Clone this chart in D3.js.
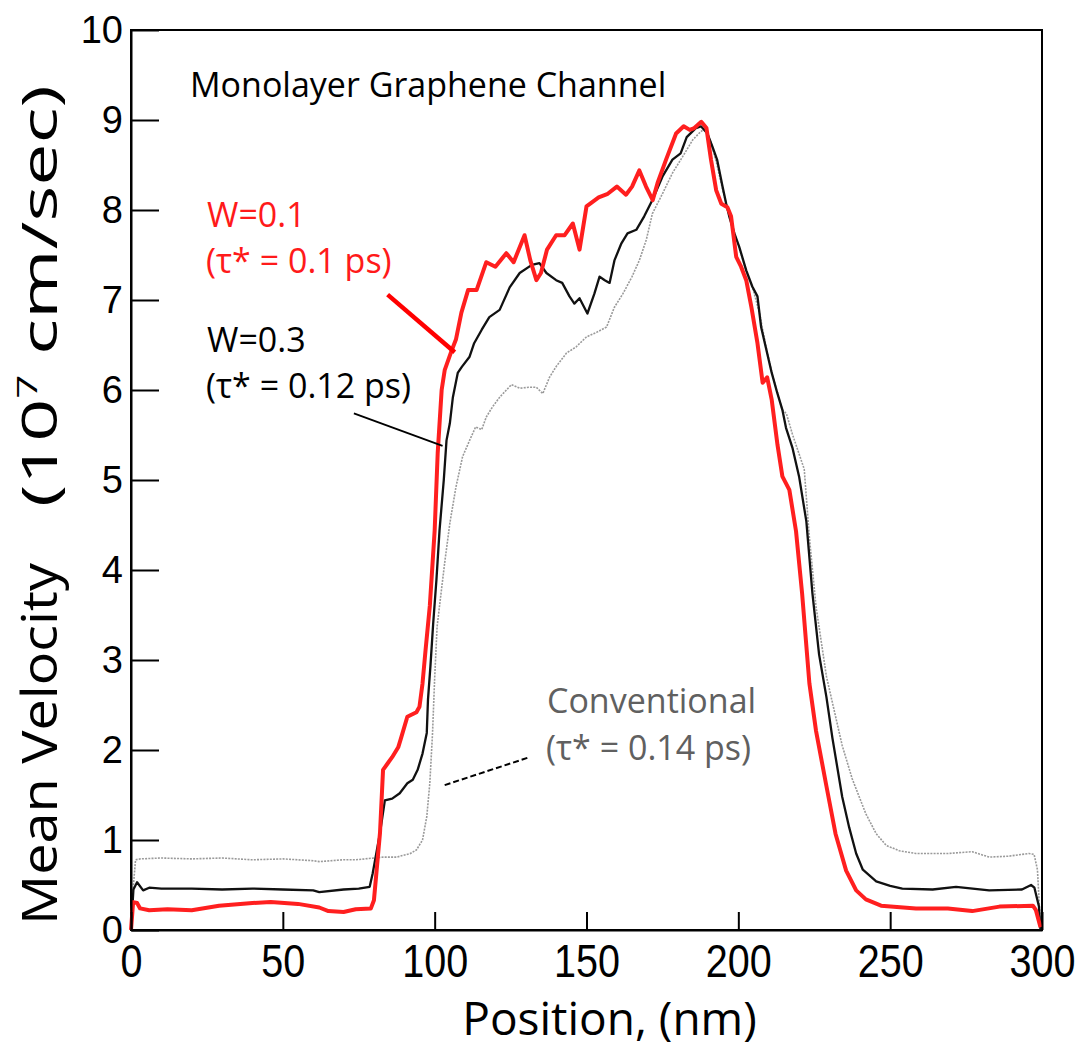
<!DOCTYPE html>
<html>
<head>
<meta charset="utf-8">
<script src="https://cdn.jsdelivr.net/npm/d3@7"></script>
<style>
    body { margin: 0; background: #fff; }
    .axis path, .axis line { stroke: #000; stroke-width: 2; }
    .axis text { font-family: "Liberation Sans", Arial, sans-serif; fill: #000; }
    .note { font-family: "Open Sans", sans-serif; font-size: 34px; }
</style>
</head>
<body>
<div id="chart"></div>
<script>
// tick values
var xTicks = [0, 50, 100, 150, 200, 250, 300];
var yTicks = [0, 1, 2, 3, 4, 5, 6, 7, 8, 9, 10];

// W=0.1 (red)
var posW01 = [0, 0.7, 2, 3, 6, 12, 20, 29, 40, 46, 55, 62, 65, 70, 74, 79, 80, 82, 83, 84.5, 86, 88, 89, 91, 94, 95, 96, 97, 98.4, 100, 101, 102.3, 103.3, 105.6, 107, 108.8, 111, 113.8, 117, 120, 123.6, 126, 129.6, 131.5, 133.5, 135, 137, 140, 142.8, 145.5, 147.7, 150, 154, 157, 160, 163, 165, 167.4, 169.6, 171.8, 173.4, 176.2, 179.5, 182, 184, 185.5, 187.8, 189.5, 191, 192.7, 194.4, 196.4, 197.6, 199.3, 200.9, 202.6, 204.3, 206.3, 208, 209.5, 211, 212.9, 214.5, 216.8, 219, 221, 223.4, 225.6, 229, 232, 235.5, 238.8, 242, 247, 258.5, 269, 277, 286, 297, 298, 299.5];
var velW01 = [0, 0.31, 0.3, 0.24, 0.22, 0.23, 0.22, 0.27, 0.3, 0.31, 0.29, 0.25, 0.21, 0.2, 0.23, 0.24, 0.33, 1.08, 1.78, 1.85, 1.92, 2.03, 2.14, 2.37, 2.42, 2.48, 2.74, 3.11, 3.6, 4.44, 5.3, 6.0, 6.22, 6.44, 6.56, 6.86, 7.11, 7.11, 7.42, 7.37, 7.52, 7.42, 7.72, 7.44, 7.22, 7.3, 7.56, 7.72, 7.72, 7.85, 7.56, 8.04, 8.14, 8.18, 8.26, 8.17, 8.26, 8.44, 8.26, 8.11, 8.3, 8.56, 8.85, 8.93, 8.89, 8.91, 8.98, 8.91, 8.56, 8.22, 8.07, 8.03, 7.93, 7.48, 7.37, 7.22, 6.92, 6.52, 6.08, 6.14, 5.89, 5.39, 5.04, 4.89, 4.43, 3.74, 2.74, 2.21, 1.6, 1.07, 0.66, 0.44, 0.34, 0.27, 0.24, 0.24, 0.21, 0.26, 0.27, 0.22, 0.03];

// W=0.3 (black)
var posW03 = [0, 0.8, 2, 4, 6, 10, 20, 30, 40, 50, 60, 62, 70, 75, 78.6, 79.6, 82, 83.6, 86, 88.5, 91, 92.8, 94.4, 96, 97.4, 97.8, 98.6, 99.5, 100.6, 101.6, 103, 103.9, 105, 106, 107.6, 109, 111.5, 113, 115.5, 118, 121.4, 124.7, 128, 132, 134.5, 136.8, 140, 142, 144.4, 146, 147.7, 150.3, 152.6, 154.3, 156, 157.6, 159.2, 161.5, 163.5, 166.4, 169, 171.7, 175, 178.3, 181, 183, 186, 187.7, 189.8, 191.5, 193, 194.8, 196, 197, 198.7, 200.3, 202.6, 204.6, 206.3, 207.5, 209, 211, 212.8, 214.5, 215.7, 217.8, 220, 222.4, 224.4, 226.6, 229, 231, 234.2, 236.5, 238.8, 241, 245.4, 250, 254, 264, 271.7, 282.6, 293.4, 296.4, 297.5, 299, 299.5];
var velW03 = [0, 0.45, 0.53, 0.44, 0.47, 0.46, 0.46, 0.45, 0.46, 0.45, 0.44, 0.42, 0.45, 0.46, 0.48, 0.63, 1.08, 1.44, 1.46, 1.52, 1.63, 1.67, 1.78, 1.96, 2.19, 2.56, 2.93, 3.4, 3.9, 4.44, 5.0, 5.44, 5.63, 5.92, 6.19, 6.26, 6.37, 6.52, 6.67, 6.81, 6.89, 7.14, 7.3, 7.39, 7.41, 7.3, 7.22, 7.19, 7.04, 6.96, 7.02, 6.85, 7.07, 7.26, 7.22, 7.19, 7.44, 7.63, 7.74, 7.78, 7.93, 8.11, 8.37, 8.56, 8.63, 8.81, 8.91, 8.93, 8.85, 8.7, 8.56, 8.26, 8.07, 7.93, 7.74, 7.59, 7.33, 7.15, 7.04, 6.7, 6.48, 6.19, 5.97, 5.78, 5.58, 5.36, 5.04, 4.54, 3.74, 3.06, 2.59, 2.13, 1.48, 1.14, 0.85, 0.67, 0.54, 0.49, 0.46, 0.45, 0.48, 0.44, 0.45, 0.5, 0.47, 0.26, 0];

// Conventional (grey dotted)
var posConv = [0, 0.8, 1.5, 3, 10, 20, 30, 40, 50, 60, 62, 70, 74, 80, 83, 87.5, 92, 94, 96, 97.4, 98.4, 99.3, 100, 100.8, 101.6, 103.3, 105, 107, 109.2, 111.5, 113.5, 115.5, 117, 119, 121.4, 125.3, 128, 131, 133.5, 135.6, 137.8, 140, 143.4, 146.6, 150, 153.3, 156.6, 159.2, 162, 165, 167.4, 169.7, 171.7, 175, 178.3, 181.6, 185, 187, 189, 191, 193, 195, 197, 199, 201, 203, 205, 207, 209, 211, 213, 214.5, 215.8, 217.8, 221.7, 223.4, 225.6, 229, 234.2, 237.5, 242, 245.4, 248.7, 253, 258.5, 269, 277, 282.6, 289, 295.7, 297.4, 298.5, 299.5];
var velConv = [0, 0.5, 0.78, 0.79, 0.8, 0.79, 0.8, 0.78, 0.79, 0.77, 0.76, 0.78, 0.78, 0.8, 0.81, 0.81, 0.85, 0.89, 1.0, 1.26, 1.63, 2.19, 2.8, 3.37, 3.6, 4.08, 4.52, 4.92, 5.26, 5.44, 5.59, 5.56, 5.7, 5.81, 5.92, 6.06, 6.02, 6.03, 6.03, 5.96, 6.14, 6.26, 6.41, 6.48, 6.59, 6.64, 6.7, 6.92, 7.07, 7.26, 7.44, 7.67, 7.96, 8.18, 8.41, 8.59, 8.78, 8.85, 8.91, 8.75, 8.5, 8.2, 7.95, 7.72, 7.5, 7.28, 7.1, 6.85, 6.5, 6.2, 5.95, 5.78, 5.74, 5.51, 5.12, 4.36, 3.59, 2.82, 2.05, 1.68, 1.29, 1.07, 0.94, 0.88, 0.85, 0.85, 0.87, 0.81, 0.82, 0.85, 0.84, 0.67, 0.03];

function init() {
    var w = 1084;
    var h = 1050;
    var left = 131, right = 1042, top = 30, bottom = 930;

    var xScale = d3.scaleLinear()
                   .domain([0, 300])
                   .range([left, right]);

    var yScale = d3.scaleLinear()
                   .domain([0, 10])
                   .range([bottom, top]);

    var line = d3.line()
                 .x(function(d) { return xScale(d[0]); })
                 .y(function(d) { return yScale(d[1]); });

    var svg = d3.select("#chart")
                .append("svg")
                .attr("width", w)
                .attr("height", h);

    // frame
    svg.append("rect")
        .attr("x", left)
        .attr("y", top)
        .attr("width", right - left)
        .attr("height", bottom - top)
        .attr("fill", "none")
        .attr("stroke", "#000")
        .attr("stroke-width", 2);

    // lines
    svg.append("path")
        .datum(d3.zip(posConv, velConv))
        .attr("d", line)
        .attr("fill", "none")
        .attr("stroke", "#9a9a9a")
        .attr("stroke-width", 1.6)
        .attr("stroke-dasharray", "2,1.2");

    svg.append("path")
        .datum(d3.zip(posW03, velW03))
        .attr("d", line)
        .attr("fill", "none")
        .attr("stroke", "#111")
        .attr("stroke-width", 2.3)
        .attr("stroke-linejoin", "round");

    svg.append("path")
        .datum(d3.zip(posW01, velW01))
        .attr("d", line)
        .attr("fill", "none")
        .attr("stroke", "#ff1f1f")
        .attr("stroke-width", 4)
        .attr("stroke-linejoin", "round");

    // axes
    var xAxis = d3.axisBottom(xScale)
                  .tickValues(xTicks)
                  .tickSizeInner(-18)
                  .tickSizeOuter(0)
                  .tickPadding(14);

    var yAxis = d3.axisLeft(yScale)
                  .tickValues(yTicks)
                  .tickSizeInner(-28)
                  .tickSizeOuter(0)
                  .tickPadding(8);

    var gx = svg.append("g")
        .attr("class", "axis")
        .attr("transform", "translate(0," + bottom + ")")
        .call(xAxis);
    gx.selectAll("text")
        .style("font-size", "46px")
        .attr("transform", "scale(0.86,1)");

    var gy = svg.append("g")
        .attr("class", "axis")
        .attr("transform", "translate(" + left + ",0)")
        .call(yAxis);
    gy.selectAll("text")
        .style("font-size", "38px");

    // axis titles
    svg.append("text")
        .attr("x", (left + right) / 2 + 23)
        .attr("y", 1035)
        .attr("text-anchor", "middle")
        .style("font-family", "Open Sans, sans-serif")
        .style("font-size", "46px")
        .text("Position, (nm)");

    // y title: the original is stretched along its length, so scale each part to fit
    var yt1 = svg.append("text")
        .style("font-family", "Open Sans, sans-serif")
        .style("font-size", "50px")
        .text("Mean Velocity");
    var len1 = yt1.node().getComputedTextLength();
    yt1.attr("transform", "translate(57,925) rotate(-90) scale(" + (362 / len1) + ",1)");

    var yt2 = svg.append("text")
        .style("font-family", "Open Sans, sans-serif")
        .style("font-size", "50px");
    yt2.append("tspan").text("(10");
    yt2.append("tspan").attr("dy", -20).style("font-size", "28px").text("7");
    yt2.append("tspan").attr("dy", 20).text(" cm/sec)");
    var len2 = yt2.node().getComputedTextLength();
    yt2.attr("transform", "translate(57,507) rotate(-90) scale(" + (422 / len2) + ",1)");

    // annotations
    svg.append("text").attr("class", "note")
        .attr("x", 190).attr("y", 97)
        .text("Monolayer Graphene Channel");

    svg.append("text").attr("class", "note")
        .attr("x", 207).attr("y", 227).attr("fill", "#ff1a1a")
        .text("W=0.1");
    svg.append("text").attr("class", "note")
        .attr("x", 206).attr("y", 273).attr("fill", "#ff1a1a")
        .text("(τ* = 0.1 ps)");

    svg.append("text").attr("class", "note")
        .attr("x", 207).attr("y", 352)
        .text("W=0.3");
    svg.append("text").attr("class", "note")
        .attr("x", 206).attr("y", 398)
        .text("(τ* = 0.12 ps)");

    svg.append("text").attr("class", "note")
        .attr("x", 547).attr("y", 713).attr("fill", "#606060")
        .text("Conventional");
    svg.append("text").attr("class", "note")
        .attr("x", 546).attr("y", 760).attr("fill", "#606060")
        .text("(τ* = 0.14 ps)");

    // leader lines, in data units
    svg.append("line")
        .attr("x1", xScale(84.5)).attr("y1", yScale(7.06))
        .attr("x2", xScale(106.6)).attr("y2", yScale(6.42))
        .attr("stroke", "#ff0000").attr("stroke-width", 4.5);

    svg.append("line")
        .attr("x1", xScale(73.4)).attr("y1", yScale(5.74))
        .attr("x2", xScale(102.6)).attr("y2", yScale(5.38))
        .attr("stroke", "#000").attr("stroke-width", 1.8);

    svg.append("line")
        .attr("x1", xScale(103.3)).attr("y1", yScale(1.61))
        .attr("x2", xScale(131.2)).attr("y2", yScale(1.92))
        .attr("stroke", "#000").attr("stroke-width", 2)
        .attr("stroke-dasharray", "6,3");
}
window.onload = init;
</script>
</body>
</html>
